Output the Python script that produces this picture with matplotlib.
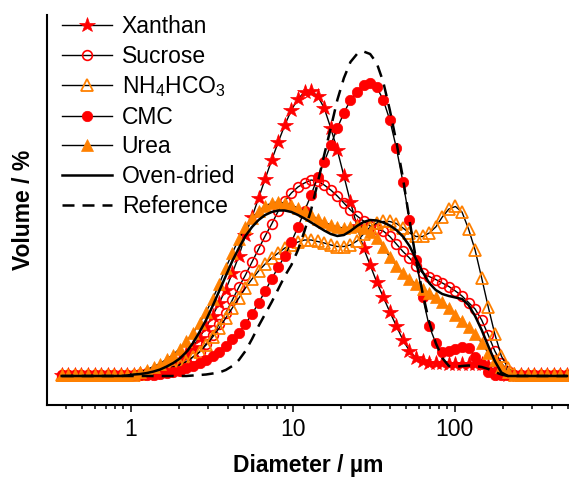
import matplotlib
matplotlib.use("Agg")
import matplotlib.pyplot as plt
from matplotlib.ticker import LogLocator, NullFormatter, FixedLocator, FixedFormatter

plt.rcParams["font.family"] = ["Liberation Sans", "DejaVu Sans"]
plt.rcParams["mathtext.default"] = "regular"

# laser diffraction size classes (um)
diameter = [
    0.375, 0.412, 0.452, 0.496, 0.545, 0.598, 0.656, 0.721, 0.791, 0.868,
    0.953, 1.047, 1.149, 1.261, 1.385, 1.520, 1.668, 1.832, 2.010, 2.207,
    2.423, 2.660, 2.920, 3.205, 3.519, 3.863, 4.240, 4.655, 5.110, 5.610,
    6.158, 6.760, 7.421, 8.147, 8.943, 9.817, 10.78, 11.83, 12.99, 14.26,
    15.65, 17.18, 18.86, 20.71, 22.73, 24.95, 27.39, 30.07, 33.01, 36.24,
    39.78, 43.67, 47.94, 52.62, 57.77, 63.41, 69.61, 76.42, 83.89, 92.09,
    101.1, 111.0, 121.8, 133.7, 146.8, 161.2, 176.9, 194.2, 213.2, 234.1,
    256.9, 282.1, 309.6, 339.9, 373.1, 409.6, 449.7, 493.6,
]

# volume % per size class
xanthan = [
    0.02, 0.02, 0.02, 0.02, 0.02, 0.02, 0.02, 0.02, 0.02, 0.02,
    0.02, 0.03, 0.04, 0.05, 0.07, 0.11, 0.15, 0.22, 0.32, 0.45,
    0.59, 0.77, 0.98, 1.21, 1.46, 1.73, 2.06, 2.40, 2.82, 3.18,
    3.56, 3.94, 4.32, 4.68, 5.02, 5.32, 5.54, 5.68, 5.70, 5.60,
    5.36, 4.96, 4.52, 4.00, 3.48, 3.00, 2.56, 2.22, 1.88, 1.58,
    1.28, 1.00, 0.72, 0.50, 0.36, 0.30, 0.27, 0.26, 0.26, 0.25,
    0.25, 0.25, 0.25, 0.25, 0.24, 0.20, 0.12, 0.05, 0.02, 0.02,
    0.02, 0.02, 0.02, 0.02, 0.02, 0.02, 0.02, 0.02,
]
sucrose = [
    0.02, 0.02, 0.02, 0.02, 0.02, 0.02, 0.02, 0.02, 0.02, 0.02,
    0.02, 0.03, 0.04, 0.06, 0.08, 0.11, 0.14, 0.18, 0.22, 0.28,
    0.38, 0.48, 0.64, 0.82, 1.04, 1.26, 1.52, 1.78, 2.02, 2.28,
    2.54, 2.80, 3.04, 3.30, 3.50, 3.66, 3.78, 3.86, 3.92, 3.90,
    3.82, 3.72, 3.60, 3.46, 3.32, 3.20, 3.10, 3.00, 2.94, 2.90,
    2.79, 2.64, 2.49, 2.36, 2.20, 2.06, 1.99, 1.93, 1.86, 1.79,
    1.70, 1.60, 1.47, 1.34, 1.12, 0.82, 0.50, 0.26, 0.10, 0.03,
    0.02, 0.02, 0.02, 0.02, 0.02, 0.02, 0.02, 0.02,
]
nh4hco3 = [
    0.02, 0.02, 0.02, 0.02, 0.02, 0.02, 0.02, 0.02, 0.02, 0.02,
    0.02, 0.03, 0.04, 0.06, 0.08, 0.11, 0.14, 0.18, 0.23, 0.29,
    0.38, 0.48, 0.62, 0.78, 0.96, 1.16, 1.36, 1.56, 1.76, 1.94,
    2.10, 2.24, 2.36, 2.46, 2.56, 2.62, 2.68, 2.72, 2.72, 2.69,
    2.66, 2.62, 2.59, 2.59, 2.62, 2.70, 2.84, 2.98, 3.06, 3.09,
    3.09, 3.05, 2.96, 2.86, 2.79, 2.79, 2.86, 2.98, 3.18, 3.34,
    3.39, 3.28, 2.94, 2.52, 1.96, 1.38, 0.84, 0.40, 0.16, 0.05,
    0.02, 0.02, 0.02, 0.02, 0.02, 0.02, 0.02, 0.02,
]
cmc = [
    0.02, 0.02, 0.02, 0.02, 0.02, 0.02, 0.02, 0.02, 0.02, 0.02,
    0.02, 0.02, 0.02, 0.02, 0.03, 0.04, 0.06, 0.08, 0.11, 0.16,
    0.20, 0.26, 0.33, 0.40, 0.49, 0.60, 0.74, 0.86, 1.04, 1.24,
    1.46, 1.70, 1.94, 2.18, 2.40, 2.68, 2.98, 3.30, 3.62, 3.98,
    4.28, 4.62, 4.96, 5.26, 5.52, 5.68, 5.82, 5.86, 5.78, 5.52,
    5.12, 4.56, 3.88, 3.12, 2.32, 1.58, 1.00, 0.66, 0.48, 0.50,
    0.54, 0.58, 0.57, 0.38, 0.24, 0.08, 0.02, 0.02, 0.02, 0.02,
    0.02, 0.02, 0.02, 0.02, 0.02, 0.02, 0.02, 0.02,
]
urea = [
    0.02, 0.02, 0.02, 0.02, 0.02, 0.02, 0.02, 0.02, 0.02, 0.02,
    0.03, 0.05, 0.08, 0.13, 0.19, 0.25, 0.34, 0.43, 0.55, 0.70,
    0.86, 1.06, 1.28, 1.54, 1.84, 2.16, 2.46, 2.74, 2.98, 3.16,
    3.30, 3.40, 3.46, 3.48, 3.46, 3.42, 3.36, 3.30, 3.22, 3.14,
    3.08, 3.02, 2.98, 2.96, 2.98, 3.00, 2.96, 2.88, 2.76, 2.58,
    2.38, 2.20, 2.06, 1.94, 1.84, 1.74, 1.66, 1.58, 1.48, 1.36,
    1.22, 1.10, 0.98, 0.84, 0.66, 0.46, 0.32, 0.18, 0.08, 0.03,
    0.02, 0.02, 0.02, 0.02, 0.02, 0.02, 0.02, 0.02,
]
oven_dried = [
    0.00, 0.00, 0.00, 0.00, 0.00, 0.00, 0.00, 0.00, 0.00, 0.00,
    0.01, 0.03, 0.04, 0.06, 0.09, 0.13, 0.19, 0.26, 0.35, 0.48,
    0.66, 0.88, 1.12, 1.40, 1.70, 2.00, 2.30, 2.56, 2.80, 2.98,
    3.12, 3.22, 3.28, 3.31, 3.31, 3.28, 3.22, 3.15, 3.07, 2.99,
    2.91, 2.84, 2.80, 2.82, 2.90, 3.00, 3.08, 3.12, 3.11, 3.07,
    3.01, 2.92, 2.79, 2.60, 2.34, 2.08, 1.86, 1.72, 1.64, 1.60,
    1.57, 1.54, 1.42, 1.20, 0.92, 0.60, 0.30, 0.07, 0.00, 0.00,
    0.00, 0.00, 0.00, 0.00, 0.00, 0.00, 0.00, 0.00,
]
reference = [
    0.00, 0.00, 0.00, 0.00, 0.00, 0.00, 0.00, 0.00, 0.00, 0.00,
    0.00, 0.00, 0.00, 0.00, 0.00, 0.00, 0.00, 0.00, 0.00, 0.00,
    0.01, 0.02, 0.03, 0.05, 0.07, 0.12, 0.20, 0.32, 0.50, 0.74,
    1.00, 1.24, 1.48, 1.74, 2.00, 2.22, 2.52, 2.90, 3.32, 3.86,
    4.42, 4.96, 5.52, 5.96, 6.28, 6.44, 6.49, 6.44, 6.26, 5.88,
    5.32, 4.68, 3.96, 3.12, 2.32, 1.66, 1.08, 0.66, 0.36, 0.20,
    0.18, 0.20, 0.21, 0.20, 0.18, 0.14, 0.08, 0.03, 0.00, 0.00,
    0.00, 0.00, 0.00, 0.00, 0.00, 0.00, 0.00, 0.00,
]

RED = "#FF0000"
ORANGE = "#FF8000"
FS = 16.5

fig = plt.figure(figsize=(5.69, 4.78), dpi=100)
ax = fig.add_axes([46.7 / 569, 73 / 478, (569 - 46.7) / 569, 390 / 478])

line_kw = dict(color="black", lw=1.0)
ax.plot(diameter, xanthan, marker="*", ms=11.5, mfc=RED, mec=RED, mew=0.5,
        label="Xanthan", **line_kw)
ax.plot(diameter, sucrose, marker="o", ms=7, mfc="none", mec=RED, mew=1.2,
        label="Sucrose", **line_kw)
ax.plot(diameter, nh4hco3, marker="^", ms=8.5, mfc="none", mec=ORANGE, mew=1.3,
        label="NH$_4$HCO$_3$", **line_kw)
ax.plot(diameter, cmc, marker="o", ms=7.5, mfc=RED, mec=RED, mew=0.5,
        label="CMC", **line_kw)
ax.plot(diameter, urea, marker="^", ms=8.5, mfc=ORANGE, mec=ORANGE, mew=0.5,
        label="Urea", **line_kw)
ax.plot(diameter, oven_dried, color="black", lw=1.8, label="Oven-dried", zorder=4)
ax.plot(diameter, reference, color="black", lw=1.8, ls=(0, (4.8, 3.2)),
        label="Reference", zorder=4)

ax.set_xscale("log")
ax.set_xlim(0.303, 508)
ax.set_ylim(-0.58, 7.22)

ax.xaxis.set_major_locator(FixedLocator([1, 10, 100]))
ax.xaxis.set_major_formatter(FixedFormatter(["1", "10", "100"]))
ax.xaxis.set_minor_locator(LogLocator(base=10, subs=range(2, 10)))
ax.xaxis.set_minor_formatter(NullFormatter())
ax.tick_params(axis="x", which="major", direction="out", length=5, width=1.1,
               labelsize=FS, pad=4)
ax.tick_params(axis="x", which="minor", direction="out", length=3, width=1.1)
ax.set_yticks([])

for side in ("top", "right"):
    ax.spines[side].set_visible(False)
for side in ("left", "bottom"):
    ax.spines[side].set_linewidth(1.5)

ax.set_xlabel("Diameter / µm", fontsize=FS, fontweight="bold", labelpad=10)
ax.set_ylabel("Volume / %", fontsize=FS, fontweight="bold", va="center")
ax.yaxis.set_label_coords(-0.045, 0.5)

ax.legend(loc="upper left", bbox_to_anchor=(61.7 / 569, 1 - 15 / 478),
          bbox_transform=fig.transFigure, frameon=False, fontsize=FS,
          numpoints=1, handlelength=2.18, handletextpad=0.44, labelspacing=0.29,
          borderpad=0, borderaxespad=0)

fig.savefig("out.png", dpi=100)
